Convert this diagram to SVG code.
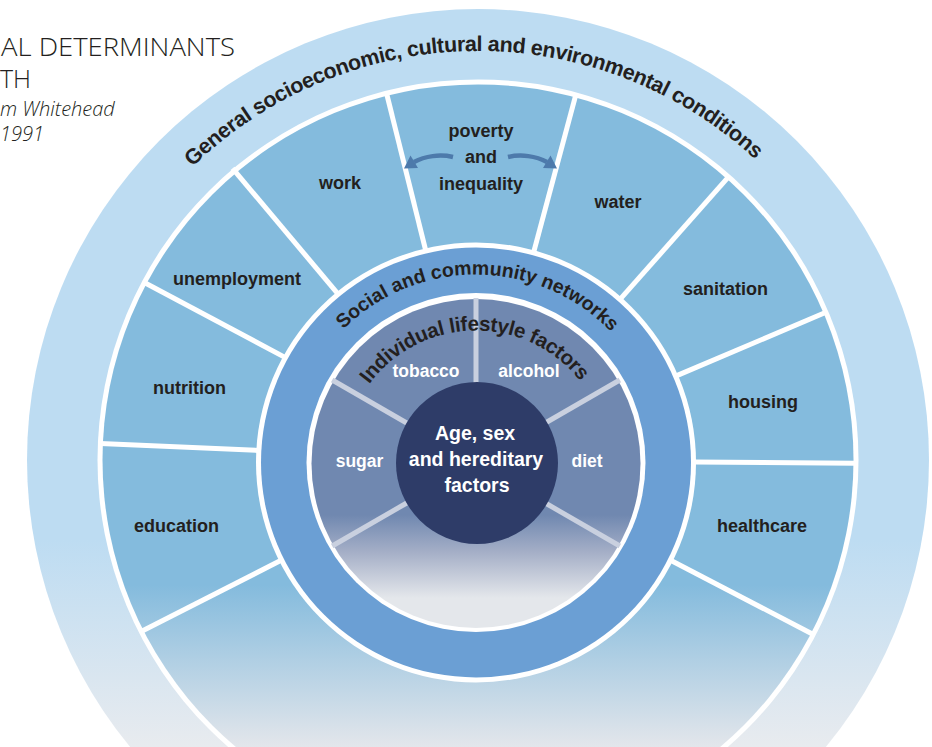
<svg xmlns="http://www.w3.org/2000/svg" width="932" height="747" viewBox="0 0 932 747">
<style>
.lbl{font-family:"Liberation Sans",Arial,sans-serif;font-weight:bold;font-size:18px;fill:#231f20;text-anchor:middle}
.wl{font-family:"Liberation Sans",Arial,sans-serif;font-weight:bold;font-size:17.5px;fill:#ffffff;text-anchor:middle}
.ctr{font-family:"Liberation Sans",Arial,sans-serif;font-weight:bold;font-size:19.5px;fill:#ffffff;text-anchor:middle}
.arc{font-family:"Liberation Sans",Arial,sans-serif;font-weight:bold;fill:#231f20;text-anchor:middle}
.title{font-family:"Open Sans","Liberation Sans",sans-serif;font-weight:300;fill:#231f20}
.div{stroke:#ffffff;stroke-width:5;stroke-linecap:butt}
.spoke{stroke:#c9d0df;stroke-width:5}
.arrow{fill:none;stroke:#4d7aab;stroke-width:4.5}
.head{fill:#4d7aab}
</style>
<defs>
<linearGradient id="gOuter" gradientUnits="userSpaceOnUse" x1="0" y1="540" x2="0" y2="747">
<stop offset="0" stop-color="#bddcf2"/><stop offset="1" stop-color="#e8ebef"/>
</linearGradient>
<linearGradient id="gSeg" gradientUnits="userSpaceOnUse" x1="0" y1="585" x2="0" y2="747">
<stop offset="0" stop-color="#84bbdd"/><stop offset="1" stop-color="#e3e6eb"/>
</linearGradient>
<linearGradient id="gInner" gradientUnits="userSpaceOnUse" x1="0" y1="515" x2="0" y2="598">
<stop offset="0" stop-color="#7088b0"/><stop offset="0.45" stop-color="#a5afc7"/><stop offset="1" stop-color="#e4e7eb"/>
</linearGradient>
<path id="arcOuter" d="M 69,460 A 409 409 0 0 1 887,460"/>
<path id="arcSocial" d="M 288,462.5 A 188 188 0 0 1 664,462.5"/>
<path id="arcLife" d="M 343,463.5 A 133 133 0 0 1 609,463.5"/>
</defs>

<g id="title">
<text class="title" x="1" y="56" font-size="25" textLength="234" lengthAdjust="spacingAndGlyphs">AL DETERMINANTS</text>
<text class="title" x="0" y="88" font-size="25">TH</text>
<text class="title" x="0" y="116" font-size="20" font-style="italic">m Whitehead</text>
<text class="title" x="0" y="141" font-size="20" font-style="italic">1991</text>
</g>

<g id="ring-general">
<circle cx="478" cy="460" r="451" fill="url(#gOuter)"/>
<circle cx="478" cy="460" r="380.5" fill="#ffffff"/>
<circle cx="478" cy="460" r="375.5" fill="url(#gSeg)"/>
<text class="arc" font-size="21.5" letter-spacing="-0.4"><textPath href="#arcOuter" startOffset="49.56%">General socioeconomic, cultural and environmental conditions</textPath></text>
</g>

<g id="segment-dividers">
<line class="div" x1="425.7" y1="250.4" x2="386.5" y2="93.2"/>
<line class="div" x1="337.5" y1="293.3" x2="232.5" y2="168.4"/>
<line class="div" x1="287.3" y1="358.6" x2="144.3" y2="282.5"/>
<line class="div" x1="262.2" y1="450.6" x2="100.4" y2="443.5"/>
<line class="div" x1="285.5" y1="558.1" x2="141.2" y2="631.6"/>
<line class="div" x1="533.9" y1="251.4" x2="575.8" y2="94.9"/>
<line class="div" x1="621.1" y1="298.2" x2="728.5" y2="176.9"/>
<line class="div" x1="676.8" y1="375.6" x2="826" y2="312.3"/>
<line class="div" x1="694" y1="461.9" x2="856" y2="463.3"/>
<line class="div" x1="669.6" y1="559.7" x2="813.3" y2="634.5"/>
</g>

<g id="ring-social">
<circle cx="476" cy="462.5" r="220" fill="#ffffff"/>
<circle cx="476" cy="462.5" r="215" fill="#6b9fd4"/>
<circle cx="476" cy="462.5" r="169.5" fill="#ffffff"/>
<text class="arc" font-size="19.5"><textPath href="#arcSocial" startOffset="50.3%">Social and community networks</textPath></text>
</g>

<g id="ring-lifestyle">
<circle cx="476" cy="463.5" r="164.5" fill="url(#gInner)"/>
<line class="spoke" x1="476" y1="384" x2="476" y2="298"/>
<line class="spoke" x1="406.7" y1="423" x2="332.2" y2="380"/>
<line class="spoke" x1="545.3" y1="423" x2="619.8" y2="380"/>
<line class="spoke" x1="406.7" y1="503" x2="332.2" y2="546"/>
<line class="spoke" x1="545.3" y1="503" x2="619.8" y2="546"/>
<text class="arc" font-size="20.5" letter-spacing="-0.3"><textPath href="#arcLife" startOffset="49.5%">Individual lifestyle factors</textPath></text>
</g>

<g id="node-work"><text class="lbl" x="340" y="189">work</text></g>
<g id="node-unemployment"><text class="lbl" x="237" y="285">unemployment</text></g>
<g id="node-nutrition"><text class="lbl" x="189.5" y="394">nutrition</text></g>
<g id="node-education"><text class="lbl" x="176.5" y="532">education</text></g>
<g id="node-poverty">
<text class="lbl" x="481" y="137">poverty</text>
<text class="lbl" x="481" y="163">and</text>
<text class="lbl" x="481" y="190">inequality</text>
</g>
<g id="node-water"><text class="lbl" x="618" y="208">water</text></g>
<g id="node-sanitation"><text class="lbl" x="725.5" y="295">sanitation</text></g>
<g id="node-housing"><text class="lbl" x="763" y="408">housing</text></g>
<g id="node-healthcare"><text class="lbl" x="762" y="532">healthcare</text></g>

<g id="node-tobacco"><text class="wl" x="426" y="377">tobacco</text></g>
<g id="node-alcohol"><text class="wl" x="529" y="377">alcohol</text></g>
<g id="node-sugar"><text class="wl" x="359.5" y="467">sugar</text></g>
<g id="node-diet"><text class="wl" x="587" y="467">diet</text></g>

<g id="node-core">
<circle cx="477" cy="463" r="81" fill="#2e3c68"/>
<text class="ctr" x="475" y="440">Age, sex</text>
<text class="ctr" x="476" y="466">and hereditary</text>
<text class="ctr" x="477" y="492">factors</text>
</g>

<g id="connectors">
<path class="arrow" d="M 453,157 C 440,154 425,156 414,162"/>
<polygon class="head" points="404,168.5 410.5,155.5 418,168"/>
<path class="arrow" d="M 508,157 C 521,154 536,156 547,162"/>
<polygon class="head" points="557,168.5 550.5,155.5 543,168"/>
</g>
</svg>
